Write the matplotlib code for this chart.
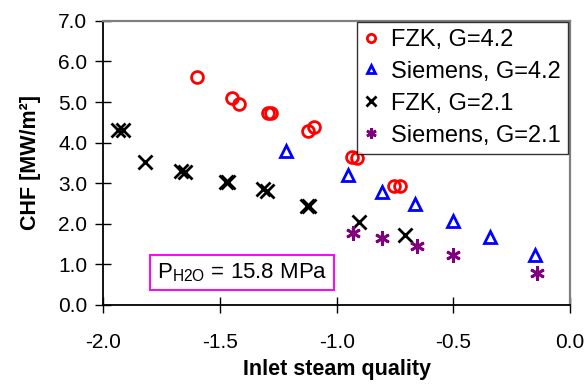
import numpy as np
import matplotlib
matplotlib.use('Agg')
import matplotlib.pyplot as plt

plt.rcParams['font.family'] = ['Liberation Sans', 'DejaVu Sans']

# FZK, G=4.2
fzk42_x = [-1.600, -1.447, -1.417, -1.293, -1.282, -1.122, -1.097, -0.936, -0.911, -0.753, -0.729]
fzk42_y = [5.62, 5.11, 4.95, 4.74, 4.74, 4.29, 4.38, 3.64, 3.61, 2.93, 2.93]
# Siemens, G=4.2
sie42_x = [-1.217, -0.953, -0.807, -0.664, -0.503, -0.343, -0.149]
sie42_y = [3.80, 3.20, 2.79, 2.48, 2.07, 1.67, 1.23]
# FZK, G=2.1
fzk21_x = [-1.935, -1.915, -1.819, -1.668, -1.650, -1.475, -1.465, -1.317, -1.300, -1.127, -1.117, -0.903, -0.707]
fzk21_y = [4.30, 4.31, 3.53, 3.30, 3.28, 3.04, 3.03, 2.85, 2.82, 2.45, 2.44, 2.05, 1.72]
# Siemens, G=2.1
sie21_x = [-0.932, -0.807, -0.657, -0.500, -0.143]
sie21_y = [1.77, 1.64, 1.45, 1.23, 0.78]

xticks = [-2.0, -1.5, -1.0, -0.5, 0.0]
yticks = [0.0, 1.0, 2.0, 3.0, 4.0, 5.0, 6.0, 7.0]

fig, ax = plt.subplots(figsize=(5.86, 3.87), dpi=100)
fig.subplots_adjust(left=0.176, right=0.973, top=0.946, bottom=0.212)

ax.plot(fzk42_x, fzk42_y, 'o', ms=8.5, mfc='none', mec='red', mew=2, ls='none', label='FZK, G=4.2')
ax.plot(sie42_x, sie42_y, '^', ms=9, mfc='none', mec='blue', mew=2, ls='none', label='Siemens, G=4.2')
ax.plot(fzk21_x, fzk21_y, 'x', ms=9.5, color='black', mew=2, ls='none', label='FZK, G=2.1')
ax.plot(sie21_x, sie21_y, marker=(6, 2, 0), ms=10.5, color='#800080', mew=2, ls='none', label='Siemens, G=2.1')

ax.set_xlim(-2.0, 0.0)
ax.set_ylim(0.0, 7.0)
ax.set_xticks(xticks)
ax.set_yticks(yticks)
ax.set_xticklabels(['%.1f' % v for v in xticks])
ax.set_yticklabels(['%.1f' % v for v in yticks])
ax.tick_params(direction='inout', length=11, width=1, labelsize=15)
ax.tick_params(axis='y', pad=6)
ax.tick_params(axis='x', pad=15)

for s in ['top', 'right']:
    ax.spines[s].set_color('#808080')
    ax.spines[s].set_linewidth(1.6)
for s in ['left', 'bottom']:
    ax.spines[s].set_linewidth(1.3)

ax.set_xlabel('Inlet steam quality', fontsize=15.5, fontweight='bold', labelpad=5)
ax.set_ylabel('CHF [MW/m²]', fontsize=15.5, fontweight='bold', labelpad=12)

leg = ax.legend(loc='upper right', bbox_to_anchor=(0.996, 0.997), fontsize=17, markerscale=0.7,
                handlelength=0.6, handletextpad=0.55, borderpad=0.3, labelspacing=0.42,
                borderaxespad=0.0, frameon=True, fancybox=False, edgecolor='black')
leg.get_frame().set_linewidth(1.0)

ax.text(-1.77, 0.8, r'P$_{\mathregular{H2O}}$ = 15.8 MPa', fontsize=16, ha='left', va='center',
        bbox=dict(boxstyle='square,pad=0.3', fc='white', ec='magenta', lw=1.4))

fig.savefig('out.png', dpi=100)
